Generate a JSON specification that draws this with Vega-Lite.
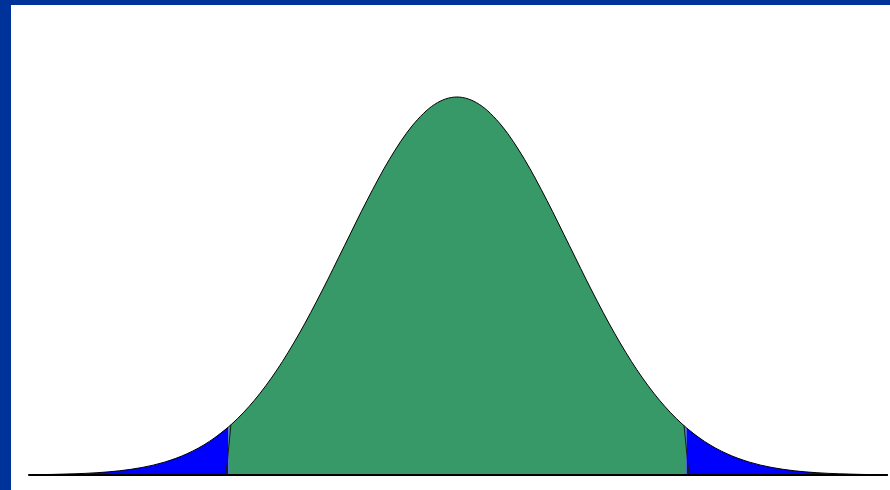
{
  "$schema": "https://vega.github.io/schema/vega-lite/v6.json",
  "width": 890,
  "height": 490,
  "autosize": {"type": "fit", "contains": "padding"},
  "padding": {"left": 11, "top": 5, "right": 0, "bottom": 0},
  "background": "#003399",
  "view": {"fill": "white", "stroke": null},
  "config": {"axis": {"disable": true}},
  "datasets": {
    "curve": [
      {"z": -3.81, "v": 0.0007, "part": "left"},
      {"z": -3.6, "v": 0.0015, "part": "left"},
      {"z": -3.4, "v": 0.0031, "part": "left"},
      {"z": -3.2, "v": 0.006, "part": "left"},
      {"z": -3.0, "v": 0.0111, "part": "left"},
      {"z": -2.8, "v": 0.0198, "part": "left"},
      {"z": -2.6, "v": 0.034, "part": "left"},
      {"z": -2.4, "v": 0.0561, "part": "left"},
      {"z": -2.2, "v": 0.0889, "part": "left"},
      {"z": -2.03, "v": 0.1274, "part": "left"},
      {"z": -2.03, "v": 0.1274, "part": "mid"},
      {"z": -2.0, "v": 0.1353, "part": "mid"},
      {"z": -1.8, "v": 0.1979, "part": "mid"},
      {"z": -1.6, "v": 0.278, "part": "mid"},
      {"z": -1.4, "v": 0.3753, "part": "mid"},
      {"z": -1.2, "v": 0.4868, "part": "mid"},
      {"z": -1.0, "v": 0.6065, "part": "mid"},
      {"z": -0.8, "v": 0.7261, "part": "mid"},
      {"z": -0.6, "v": 0.8353, "part": "mid"},
      {"z": -0.4, "v": 0.9231, "part": "mid"},
      {"z": -0.2, "v": 0.9802, "part": "mid"},
      {"z": 0.0, "v": 1.0, "part": "mid"},
      {"z": 0.2, "v": 0.9802, "part": "mid"},
      {"z": 0.4, "v": 0.9231, "part": "mid"},
      {"z": 0.6, "v": 0.8353, "part": "mid"},
      {"z": 0.8, "v": 0.7261, "part": "mid"},
      {"z": 1.0, "v": 0.6065, "part": "mid"},
      {"z": 1.2, "v": 0.4868, "part": "mid"},
      {"z": 1.4, "v": 0.3753, "part": "mid"},
      {"z": 1.6, "v": 0.278, "part": "mid"},
      {"z": 1.8, "v": 0.1979, "part": "mid"},
      {"z": 2.0, "v": 0.1353, "part": "mid"},
      {"z": 2.04, "v": 0.1248, "part": "mid"},
      {"z": 2.04, "v": 0.1248, "part": "right"},
      {"z": 2.2, "v": 0.0889, "part": "right"},
      {"z": 2.4, "v": 0.0561, "part": "right"},
      {"z": 2.6, "v": 0.034, "part": "right"},
      {"z": 2.8, "v": 0.0198, "part": "right"},
      {"z": 3.0, "v": 0.0111, "part": "right"},
      {"z": 3.2, "v": 0.006, "part": "right"},
      {"z": 3.4, "v": 0.0031, "part": "right"},
      {"z": 3.6, "v": 0.0015, "part": "right"},
      {"z": 3.83, "v": 0.0006, "part": "right"}
    ],
    "edges": [
      {"x1": -2.053, "y1": 0, "x2": -2.009, "y2": 0.133},
      {"x1": 2.062, "y1": 0, "x2": 2.018, "y2": 0.131}
    ],
    "base": [
      {"x1": -3.81, "x2": 3.83, "y": 0}
    ]
  },
  "data": {"name": "curve"},
  "layer": [
    {
      "mark": {"type": "area", "interpolate": "monotone", "stroke": null},
      "encoding": {
        "x": {"field": "z", "type": "quantitative", "scale": {"domain": [-3.964, 3.849], "nice": false, "zero": false}},
        "y": {"field": "v", "type": "quantitative", "stack": null, "scale": {"domain": [-0.0397, 1.2434], "nice": false, "zero": false}},
        "color": {"field": "part", "type": "nominal", "legend": null,
          "scale": {"domain": ["left", "mid", "right"], "range": ["#0000ff", "#369967", "#0000ff"]}},
        "fillOpacity": {"value": 1}
      }
    },
    {
      "mark": {"type": "line", "interpolate": "monotone", "color": "black", "strokeWidth": 1},
      "encoding": {
        "x": {"field": "z", "type": "quantitative"},
        "y": {"field": "v", "type": "quantitative"}
      }
    },
    {
      "data": {"name": "edges"},
      "mark": {"type": "rule", "color": "#1a1a1a", "strokeWidth": 1},
      "encoding": {
        "x": {"field": "x1", "type": "quantitative"},
        "x2": {"field": "x2"},
        "y": {"field": "y1", "type": "quantitative"},
        "y2": {"field": "y2"}
      }
    },
    {
      "data": {"name": "base"},
      "mark": {"type": "rule", "color": "black", "strokeWidth": 2},
      "encoding": {
        "x": {"field": "x1", "type": "quantitative"},
        "x2": {"field": "x2"},
        "y": {"field": "y", "type": "quantitative"}
      }
    }
  ]
}
